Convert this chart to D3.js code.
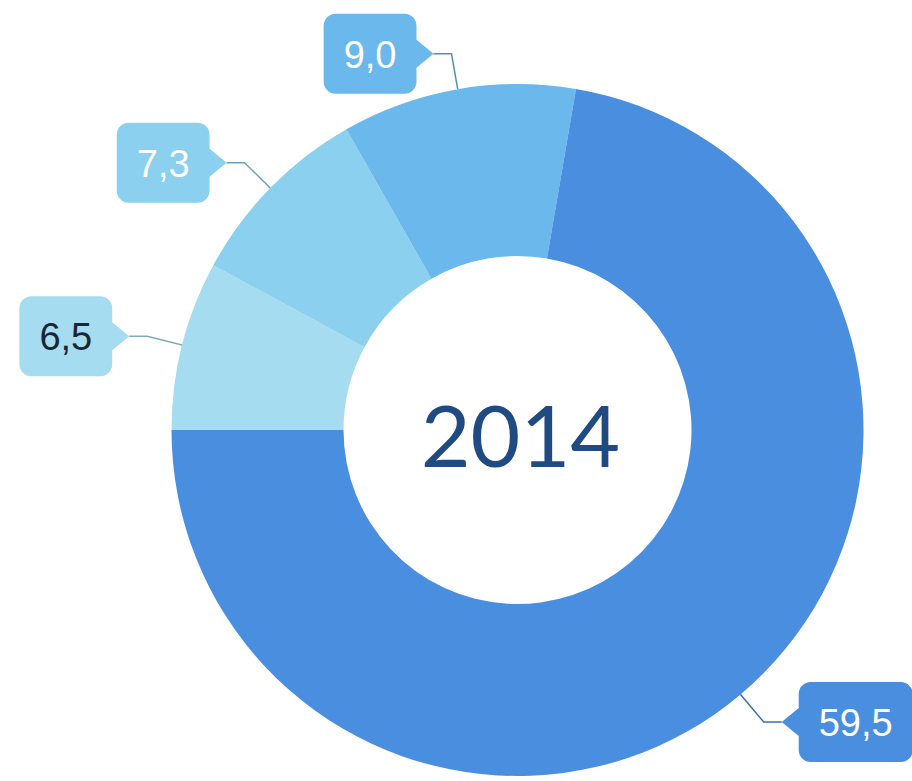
<!DOCTYPE html>
<html>
<head>
<meta charset="utf-8">
<script src="https://cdn.jsdelivr.net/npm/d3@7"></script>
<style>
  html, body { margin: 0; padding: 0; background: #fff; }
  svg { display: block; }
</style>
</head>
<body>
<svg id="donut"></svg>
<script>
const width = 912;
const height = 781;

// data, in drawing order starting from 9 o'clock, clockwise
const labels = ["6,5", "7,3", "9,0", "59,5"];
const values = [6.5, 7.3, 9.0, 59.5];
const colors = ["#a6dcf0", "#8bd0ee", "#6ab8ec", "#4a8ee0"];
const textColors = ["#1b2633", "#ffffff", "#ffffff", "#ffffff"];
const centerLabel = "2014";

const cx = 517.5, cy = 430;
const outerR = 346, innerR = 174;
const elbowR = 382;
const tail = 18;      // horizontal bit of the leader line
const notch = 17;     // pointer length
const boxH = 80;
const padX = 20;

const svg = d3.select("#donut")
  .attr("width", width)
  .attr("height", height);

const data = values.map((v, i) => ({ label: labels[i], value: v, color: colors[i], text: textColors[i] }));

const pie = d3.pie()
  .value(d => d.value)
  .sort(null)
  .startAngle(-Math.PI / 2)
  .endAngle(1.5 * Math.PI);

const arc = d3.arc().innerRadius(innerR).outerRadius(outerR);
const arcs = pie(data);

const g = svg.append("g").attr("transform", `translate(${cx},${cy})`);

g.selectAll("path.slice")
  .data(arcs)
  .join("path")
  .attr("class", "slice")
  .attr("d", arc)
  .attr("fill", d => d.data.color);

// center year
g.append("text")
  .attr("x", 3)
  .attr("y", 37)
  .attr("text-anchor", "middle")
  .attr("font-family", "Lato, 'Open Sans', sans-serif")
  .attr("font-size", 86)
  .attr("fill", "#1f4b82")
  .text(centerLabel);

//* callouts
const polar = (r, a) => [r * Math.sin(a), -r * Math.cos(a)];

const callouts = g.selectAll("g.callout")
  .data(arcs)
  .join("g")
  .attr("class", "callout");

callouts.each(function (d) {
  const sel = d3.select(this);
  const mid = (d.startAngle + d.endAngle) / 2;
  const [x0, y0] = polar(outerR, mid);
  const [x1, y1] = polar(elbowR, mid);
  const side = x1 < 0 ? -1 : 1;
  const tipX = x1 + side * tail;

  sel.append("polyline")
    .attr("points", [[x0, y0], [x1, y1], [tipX, y1]].map(p => p.join(",")).join(" "))
    .attr("fill", "none")
    .attr("stroke", d3.color(d.data.color).darker(0.7))
    .attr("stroke-width", 1.5);

  const txt = sel.append("text")
    .attr("font-family", "'Liberation Sans', Arial, sans-serif")
    .attr("font-size", 38)
    .attr("fill", d.data.text)
    .attr("text-anchor", "middle")
    .attr("dominant-baseline", "central")
    .text(d.data.label);
  const tw = txt.node().getComputedTextLength();
  const boxW = tw + padX * 2;

  // box edge next to pointer
  const edgeX = tipX + side * notch;
  const farX = edgeX + side * boxW;
  const top = y1 - boxH / 2, bot = y1 + boxH / 2;
  const r = 12, nh = 14;
  const l = Math.min(edgeX, farX), rr = Math.max(edgeX, farX);

  const p = d3.path();
  p.moveTo(l + r, top);
  p.lineTo(rr - r, top);
  p.arcTo(rr, top, rr, top + r, r);
  if (side < 0) { p.lineTo(rr, y1 - nh); p.lineTo(tipX, y1); p.lineTo(rr, y1 + nh); }
  p.lineTo(rr, bot - r);
  p.arcTo(rr, bot, rr - r, bot, r);
  p.lineTo(l + r, bot);
  p.arcTo(l, bot, l, bot - r, r);
  if (side > 0) { p.lineTo(l, y1 + nh); p.lineTo(tipX, y1); p.lineTo(l, y1 - nh); }
  p.lineTo(l, top + r);
  p.arcTo(l, top, l + r, top, r);
  p.closePath();

  sel.insert("path", "text")
    .attr("d", p.toString())
    .attr("fill", d.data.color);

  txt.attr("x", (l + rr) / 2).attr("y", y1 + 1);
});
</script>
</body>
</html>
